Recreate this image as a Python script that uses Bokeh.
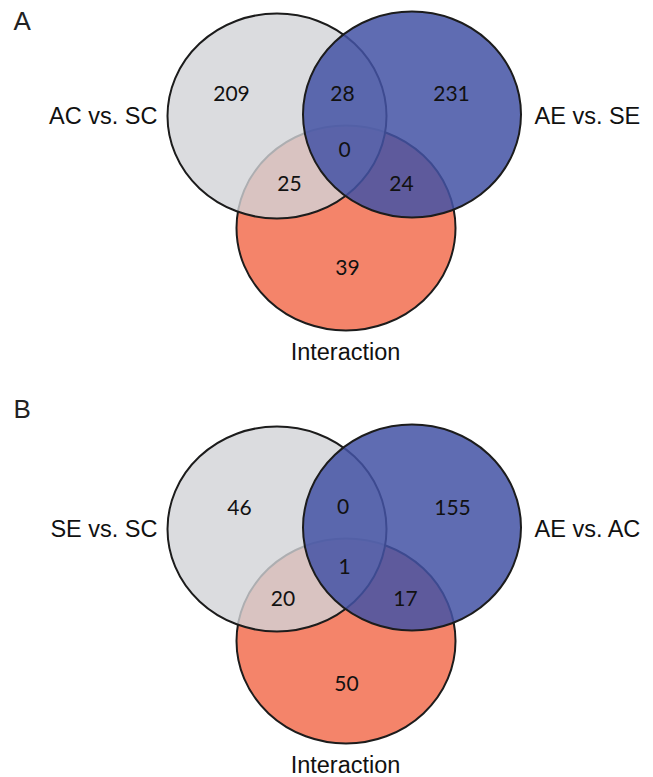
from bokeh.plotting import figure
from bokeh.models import Range1d, ColumnDataSource
from bokeh.core.properties import value
from bokeh.embed import file_html
from bokeh.resources import INLINE

# ---- data ----
panels = ["A", "B"]
sets_A = ["AC vs. SC", "AE vs. SE", "Interaction"]
sets_B = ["SE vs. SC", "AE vs. AC", "Interaction"]
# regions: only1, 1&2, only2, 1&2&3, 1&3, 2&3, only3
counts_A = [209, 28, 231, 0, 25, 24, 39]
counts_B = [46, 0, 155, 1, 20, 17, 50]

# ---- layout (pixel coordinates of the page) ----
W, H = 653, 777
panel_dy = [0, 413]
letter_dy = [0, 388]
# set ellipses: x, y, w, h (panel A frame)
ell_x = [276.5, 411.5, 345.5]
ell_y = [115.5, 114.0, 227.5]
ell_w = [219, 218, 219]
ell_h = [205, 206, 205]
ell_fill = ["#D2D3D7", "#4352A4", "#F4846A"]
ell_alpha = [0.8, 0.85, 1.0]
draw_order = [2, 0, 1]
# region label centres per panel
reg_xy_A = [(231, 93), (342, 93), (451, 93), (344, 149), (289, 183), (401, 183), (347, 267)]
reg_xy_B = [(239, 94), (342.5, 93), (452, 94), (344, 153), (282.5, 185), (405, 185), (346, 270)]

p = figure(width=W, height=H, x_range=Range1d(0, W), y_range=Range1d(H, 0),
           output_backend="svg", toolbar_location=None, min_border=0,
           x_axis_location=None, y_axis_location=None)
p.grid.visible = False
p.outline_line_color = None
p.background_fill_color = "white"
p.border_fill_color = "white"

label_font = value("Liberation Sans")
label_size = "23.5px"

for pi, (letter, sets, counts, reg_xy) in enumerate(zip(panels, [sets_A, sets_B], [counts_A, counts_B], [reg_xy_A, reg_xy_B])):
    dy = panel_dy[pi]
    for i in draw_order:
        p.ellipse(x=[ell_x[i]], y=[ell_y[i] + dy], width=[ell_w[i]], height=[ell_h[i]],
                  fill_color=ell_fill[i], fill_alpha=ell_alpha[i],
                  line_color="#1c1c1c", line_width=2)
    src = ColumnDataSource(dict(x=[xy[0] for xy in reg_xy], y=[xy[1] + dy for xy in reg_xy],
                                t=[str(c) for c in counts]))
    p.text(x="x", y="y", text="t", source=src, text_font=value("Lato"), text_font_size="21px",
           text_align="center", text_baseline="middle", text_color="#111111")
    # set labels
    p.text(x=[157], y=[115 + dy], text=[sets[0]], text_font=label_font,
           text_font_size=label_size, text_align="right", text_baseline="middle", text_color="#111111")
    p.text(x=[534], y=[115 + dy], text=[sets[1]], text_font=label_font,
           text_font_size=label_size, text_align="left", text_baseline="middle", text_color="#111111")
    p.text(x=[345], y=[351 + dy], text=[sets[2]], text_font=label_font,
           text_font_size=label_size, text_align="center", text_baseline="middle", text_color="#111111")
    # panel letter
    p.text(x=[13], y=[20 + letter_dy[pi]], text=[letter], text_font=label_font,
           text_font_size="26px", text_align="left", text_baseline="middle", text_color="#222222")

open("out.html", "w").write(file_html(p, INLINE))
